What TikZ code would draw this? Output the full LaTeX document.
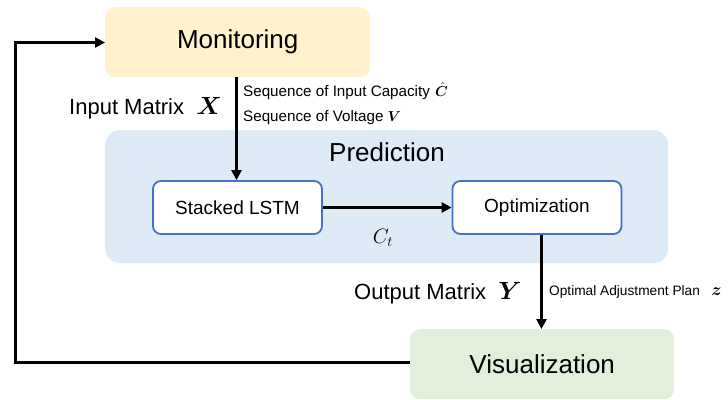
\documentclass[tikz,border=0pt]{standalone}
\usepackage{fontspec}
\usepackage{bm}
\setmainfont{Liberation Sans}
\usetikzlibrary{arrows.meta}
\definecolor{monfill}{RGB}{255,242,204}
\definecolor{predfill}{RGB}{222,234,246}
\definecolor{visfill}{RGB}{226,239,218}
\definecolor{boxblue}{RGB}{68,114,196}
\begin{document}
\begin{tikzpicture}[x=1pt,y=-1pt,
  stage/.style={rounded corners=10pt, inner sep=0pt, anchor=north west},
  big/.style={font=\fontsize{26}{28}\selectfont},
  inner/.style={draw=boxblue, line width=1.8pt, fill=white, rounded corners=8pt, minimum width=169pt, minimum height=53pt, font=\fontsize{19}{21}\selectfont},
  conn/.style={line width=3pt, -{Triangle[length=10pt,width=10pt]}},
  small/.style={font=\fontsize{15.2}{17}\selectfont, anchor=west, inner sep=0pt},
  mid/.style={font=\fontsize{22}{24}\selectfont, inner sep=0pt}]
\useasboundingbox (0,0) rectangle (728,399);
% stages
\node[stage, fill=predfill, rounded corners=15pt, minimum width=563pt, minimum height=133pt] (pred) at (105,130) {};
\node[big] (predt) at (387,152) {Prediction};
\node[stage, fill=monfill, minimum width=265pt, minimum height=70pt] (mon) at (105,7) {};
\node[big] (mont) at (mon.center) {Monitoring};
\node[stage, fill=visfill, minimum width=264pt, minimum height=70pt] (vis) at (410,329) {};
\node[big] (vist) at (vis.center) {Visualization};
% inner boxes
\node[inner] (lstm) at (237.5,207.5) {Stacked LSTM};
\node[inner] (opt) at (537,207.5) {Optimization};
% connectors
\draw[conn] (mon.south -| 236.5,0) -- (lstm.north -| 236.5,0);
\draw[conn] (lstm.east) -- (opt.west);
\draw[conn] (opt.south -| 541.5,0) -- (vis.north -| 541.5,0);
\coordinate (fb1) at (15,362.5);
\coordinate (fb2) at (15,42.5);
\draw[conn] (vis.west |- fb1) -- (fb1) -- (fb2) -- (mon.west |- fb2);
% labels
\node[small] (l1) at (243,91) {Sequence of Input Capacity\,\,$\bm{\hat{C}}$};
\node[small] (l2) at (243,118) {Sequence of Voltage~$\bm{V}$};
\node[mid, anchor=west] (im) at (69,108) {Input Matrix~~{\fontsize{28}{30}\selectfont$\bm{X}$}};
\node[font=\fontsize{21}{23}\selectfont] (ct) at (383,238) {$C_t$};
\node[mid, anchor=west] (om) at (354,293) {Output Matrix~~{\fontsize{28}{30}\selectfont$\bm{Y}$}};
\node[small, font=\fontsize{13.7}{15}\selectfont] (l3) at (549,292) {Optimal Adjustment Plan~~~{\fontsize{17}{18}\selectfont$\bm{z}$}};
\end{tikzpicture}
\end{document}
